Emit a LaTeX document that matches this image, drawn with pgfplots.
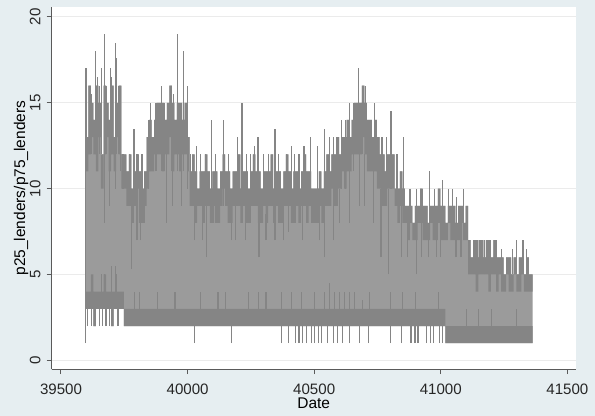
\documentclass[border=0pt]{standalone}
\usepackage{pgfplots}
\pgfplotsset{compat=1.18}
\usepackage{pgfplotstable}
\usepgfplotslibrary{fillbetween}
\usepackage{fontspec}
\setmainfont{Liberation Sans}
\definecolor{bgout}{HTML}{E6EEF1}
\definecolor{lightg}{HTML}{9B9B9B}
\definecolor{darkg}{HTML}{858585}
\definecolor{axisg}{HTML}{5A5A5A}
\definecolor{gridg}{HTML}{EBEBEB}

\pgfplotstableread{
x ut ub lt lb
39598 13 11 4 3
39608 16 12 4 3
39618 15 13 5 3
39628 14 12 4 2
39638 16 11 4 3
39648 15 13 4 3
39658 12 10 4 3
39668 16 12 5 3
39678 15 13 4 3
39688 14 11 4 3
39698 16 12 4 2
39708 13 11 4 3
39718 15 13 4 3
39728 16 12 4 3
39738 12 10 4 3
39748 12 10 3 2
39758 11 9 3 2
39768 12 9 3 2
39778 10 8 3 2
39788 11 9 3 2
39798 12 10 3 2
39808 11 8 3 2
39818 10 8 3 2
39828 11 9 3 2
39838 13 10 3 2
39848 14 11 3 2
39858 13 11 3 2
39868 14 12 3 2
39878 15 12 3 2
39888 15 12 3 2
39898 15 11 3 2
39908 14 12 3 2
39918 15 12 3 2
39928 16 13 3 2
39938 15 11 3 2
39948 14 12 3 2
39958 15 12 3 2
39968 15 11 3 2
39978 14 12 3 2
39988 15 12 3 2
39998 13 11 3 2
40008 11 9 3 2
40018 12 9 3 2
40028 11 8 3 2
40038 10 9 3 2
40048 11 9 3 2
40058 11 8 3 2
40068 12 9 3 2
40078 11 9 3 2
40088 10 8 3 2
40098 11 9 3 2
40108 11 8 3 2
40118 10 8 3 2
40128 11 9 3 2
40138 12 10 3 2
40148 11 9 3 2
40158 11 8 3 2
40168 10 8 3 2
40178 11 9 3 2
40188 11 9 3 2
40198 12 9 3 2
40208 10 8 3 2
40218 11 9 3 2
40228 11 8 3 2
40238 10 8 3 2
40248 11 9 3 2
40258 12 9 3 2
40268 11 9 3 2
40278 11 8 3 2
40288 10 8 3 2
40298 11 9 3 2
40308 11 8 3 2
40318 11 9 3 2
40328 12 9 3 2
40338 10 8 3 2
40348 11 9 3 2
40358 11 8 3 2
40368 10 8 3 2
40378 11 9 3 2
40388 12 9 3 2
40398 11 9 3 2
40408 10 8 3 2
40418 11 8 3 2
40428 11 9 3 2
40438 10 8 3 2
40448 11 9 3 2
40458 12 9 3 2
40468 11 8 3 2
40478 11 9 3 2
40488 10 8 3 2
40498 10 8 3 2
40508 10 8 3 2
40518 11 9 3 2
40528 10 8 3 2
40538 11 9 3 2
40548 12 9 3 2
40558 11 9 3 2
40568 12 10 3 2
40578 12 9 3 2
40588 13 10 3 2
40598 12 10 3 2
40608 13 11 3 2
40618 13 10 3 2
40628 14 11 3 2
40638 13 11 3 2
40648 14 12 3 2
40658 15 12 3 2
40668 15 12 3 2
40678 15 12 3 2
40688 16 13 3 2
40698 15 12 3 2
40708 14 11 3 2
40718 14 11 3 2
40728 13 11 3 2
40738 14 11 3 2
40748 13 10 3 2
40758 12 10 3 2
40768 12 9 3 2
40778 11 9 3 2
40788 12 10 3 2
40798 12 10 3 2
40808 12 10 3 2
40818 10 9 3 2
40828 10 8 3 2
40838 11 9 3 2
40848 10 8 3 2
40858 9 8 3 2
40868 9 7 3 2
40878 9 8 3 2
40888 8 7 3 2
40898 9 7 3 2
40908 9 8 3 2
40918 10 8 3 2
40928 9 7 3 2
40938 9 7 3 2
40948 8 7 3 2
40958 9 8 3 2
40968 9 7 3 2
40978 9 7 3 2
40988 10 8 3 2
40998 9 7 3 2
41008 9 7 3 2
41018 8 7 2 1
41028 9 8 2 1
41038 9 7 2 1
41048 9 7 2 1
41058 8 7 2 1
41068 9 7 2 1
41078 9 8 2 1
41088 8 7 2 1
41098 9 7 2 1
41108 7 5 2 1
41118 6 5 2 1
41128 7 5 2 1
41138 7 4 2 1
41148 6 5 2 1
41158 7 5 2 1
41168 6 5 2 1
41178 7 5 2 1
41188 7 4 2 1
41198 6 5 2 1
41208 7 5 2 1
41218 6 4 2 1
41228 6 5 2 1
41238 6 4 2 1
41248 5 4 2 1
41258 6 5 2 1
41268 6 4 2 1
41278 5 4 2 1
41288 6 5 2 1
41298 5 4 2 1
41308 6 4 2 1
41318 6 5 2 1
41328 5 4 2 1
41338 6 4 2 1
41348 5 4 2 1
41358 5 4 2 1
41363 5 4 2 1
}\band

\pgfplotstableread{
x y0 dy
39598 1 16
39601 12 5
39614 12 4
39622 12 3.5
39635 12 6
39645 12 4.5
39651 12 4
39660 12 5
39671 13 6
39680 12 4
39694 12 5
39700 12 4.5
39714 12 6.5
39718 12 5.6
39728 12 4
39735 11 5
39745 10 2
39770 9 3
39788 9 4.5
39800 9 3
39820 9 3
39845 10 4
39855 11 4
39875 11 4
39898 11 5
39910 11 4
39935 11 4
39945 11 4.5
39960 11 8
39970 11 4
39984 11 7
40000 10 6
40012 9 3
40035 9 3.5
40050 9 3
40072 9 3
40094 9 5
40110 9 3
40141 9 5
40160 9 3
40196 9 4
40215 9 6
40232 9 3
40247 9 3
40265 9 3.5
40278 9 4
40300 9 3
40320 9 3
40345 9 4.5
40360 9 3
40392 9 3
40410 9 3.5
40423 9 3
40440 9 3
40460 9 3.5
40486 9 4
40513 8 4.5
40541 9 4.5
40560 9 4
40576 9 4
40590 9 4
40608 10 4
40625 10 4
40639 11 4
40655 11 4
40674 12 5
40690 12 4
40702 12 4
40721 11 3
40737 11 4
40745 11 3
40768 10 3
40785 10 3
40803 10 4.5
40827 9 3
40854 9 4
40878 8 2
40905 8 2
40929 8 2
40956 8 3
40976 8 2
41007 8 2.5
41031 8 2
41045 8 2
41062 8 1.5
41090 8 2
41141 5 2
41155 5 2
41172 5 2
41196 5 2
41219 5 2
41240 5 1.5
41282 5 1.5
41300 5 2
41325 5 2
41340 5 1.5
39671 8 5
39690 9 3
39715 10 3
39780 5.3 4
39800 7 2
39815 7 3
39830 8 2
39918 8 4
39940 9 3
39975 9 3
40028 7 3
40060 7 2
40075 6 3
40100 8 2
40110 8 2
40172 7 2
40190 7 2
40230 7 2
40250 8 2
40282 6 3
40310 7 1.5
40345 7 2
40380 7 2
40400 7.5 1.5
40455 7 2
40470 8 1
40520 7 2
40541 6 3
40576 7 3
40600 8 2
40640 8 3
40680 9 3
40700 9 3
40735 8 3
40764 6 4
40795 5 5
40846 6 3
40870 6 2
40905 5 3
40925 6 2
40950 6 2
40983 6 2
41000 6 2
41060 6 2
41080 6 2
39660 4 1
39671 4 1
39700 4 1.5
39714 4 1.5
39720 4 1
39790 3 1
39810 3 1
39880 3 1
39950 3 1
40050 3 1
40120 3 1
40150 3 1
40240 3 1
40280 3 1
40310 3 1
40370 3 1
40410 3 1
40450 3 1
40500 3 1
40540 3 1
40560 3 1.5
40580 3 1
40600 3 1
40620 3 1
40640 3 1
40660 3 1
40690 3 0.5
40720 3 1
40800 3 1
40850 3 1
40900 3 1
40990 3 1
41100 2 1
41150 2 1
41200 2 1
41300 2 1
39605 2 1
39620 2 1
39633 2 1
39652 2 1
39665 2 1
39678 2 1
39693 2 1
39705 2 1
39725 2 1
40028 1 1
40172 1 1
40370 1 1
40400 1 1
40425 1 1
40440 1 1
40455 1 1
40470 1 1
40490 1 1
40502 1 1
40518 1 1
40530 1 1
40552 1 1
40576 1 1
40592 1 1
40612 1 1
40640 1 1
40680 1 1
40713 1 1
40800 1 1
40846 1 1
40882 1 1
40898 1 1
40910 1 1
40945 1 1
40960 1 1
40972 1 1
40996 1 1
41007 1 1
}\spikes

\pagecolor{bgout}
\begin{document}
\begin{tikzpicture}
\path (-26pt,-20.5pt) rectangle (271.5pt,186pt);
\begin{axis}[
  at={(0pt,0pt)}, anchor=south west,
  scale only axis, width=264pt, height=182.5pt,
  xmin=39463, xmax=41533, ymin=-0.52, ymax=20.58,
  axis x line*=bottom, axis y line*=left,
  axis line style={color=axisg, line width=0.5pt, -},
  axis background/.style={fill=white},
  xtick={39500,40000,40500,41000,41500},
  ytick={0,5,10,15,20},
  tick align=outside, major tick length=2.5pt,
  tick style={color=axisg, line width=0.5pt},
  ymajorgrids, grid style={color=gridg, line width=0.5pt},
  scaled ticks=false,
  /pgf/number format/1000 sep={},
  /pgf/number format/assume math mode=true,
  tick label style={font=\fontsize{7.6}{9}\selectfont, text=black!85},
  xticklabel shift=1.5pt,
  yticklabel style={rotate=90, anchor=south},
  yticklabel shift=-0.5pt,
  xlabel={Date},
  xlabel style={at={(axis description cs:0.5,-0.095)}, anchor=center, font=\fontsize{7.8}{9}\selectfont},
  ylabel={p25\_lenders/p75\_lenders},
  ylabel style={at={(axis description cs:-0.058,0.5)}, anchor=center, font=\fontsize{7.8}{9}\selectfont},
]
\addplot[draw=none, const plot, name path=UT] table[x=x,y=ut]{\band};
\addplot[draw=none, const plot, name path=UB] table[x=x,y=ub]{\band};
\addplot[draw=none, const plot, name path=LT] table[x=x,y=lt]{\band};
\addplot[draw=none, const plot, name path=LB] table[x=x,y=lb]{\band};
\addplot[lightg] fill between[of=UT and LB];
\addplot[darkg] fill between[of=UT and UB];
\addplot[darkg] fill between[of=LT and LB];
\addplot[draw=none, mark=none, error bars/.cd, y dir=plus, y explicit, error mark=none,
  error bar style={draw=darkg, line width=0.6pt}] table[x=x, y=y0, y error=dy]{\spikes};
\end{axis}
\end{tikzpicture}
\end{document}
